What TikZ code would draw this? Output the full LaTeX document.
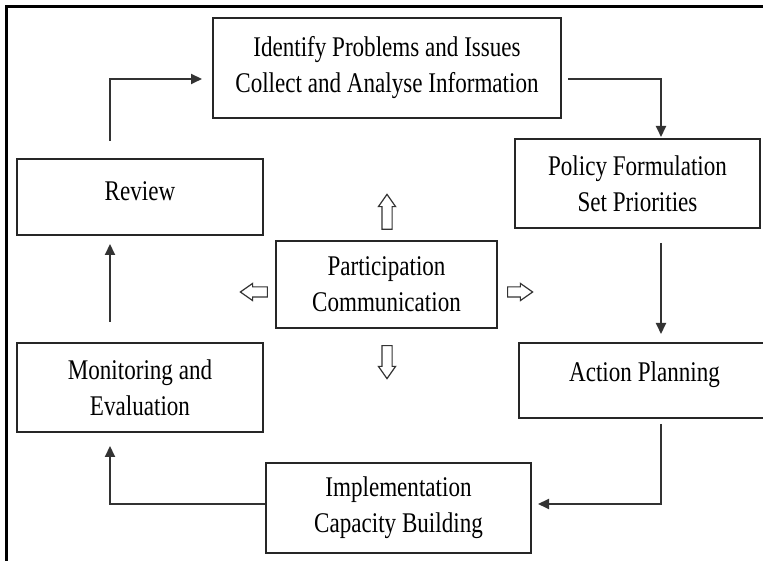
\documentclass[tikz,border=0pt]{standalone}
\usepackage{fontspec}
\newfontfamily\boxfont[FakeStretch=0.81]{Liberation Serif}
\usetikzlibrary{arrows.meta,shapes.arrows}
\begin{document}
\begin{tikzpicture}[x=1pt,y=1pt,
  box/.style={draw=black!85, line width=2pt, fill=white, font=\boxfont\fontsize{28.5}{36}\selectfont, align=center, inner sep=0pt, text=black},
  conn/.style={draw=black!80, line width=2pt, -{Triangle[length=11pt,width=10pt]}},
  hollow/.style={draw=black!80, line width=1.2pt, fill=white, single arrow, single arrow head extend=3.5pt, single arrow tip angle=70, inner sep=4.5pt}]
\useasboundingbox (0,0) rectangle (763,561);
\clip (0,0) rectangle (763,561);
\draw[line width=3pt] (6,0) -- (6,554.5) -- (770,554.5);

\node[box, minimum width=348pt, minimum height=100pt] (ident) at (387,493) {Identify Problems and Issues\\Collect and Analyse Information};
\node[box, minimum width=245pt, minimum height=89pt] (policy) at (637.5,377.5) {Policy Formulation\\Set Priorities};
\node[box, minimum width=246pt, minimum height=76pt, text depth=12pt] (review) at (140,364) {Review};
\node[box, minimum width=221pt, minimum height=87pt] (part) at (386.5,276.5) {Participation\\Communication};
\node[box, minimum width=251pt, minimum height=75pt, text depth=17.6pt] (action) at (644.5,180.5) {Action Planning};
\node[box, minimum width=246pt, minimum height=89pt] (monitor) at (140,173.5) {Monitoring and\\Evaluation};
\node[box, minimum width=265pt, minimum height=90pt] (impl) at (398.5,53) {Implementation\\Capacity Building};

\node[hollow, minimum height=35pt, rotate=90] (pu) at (387,345.5) {};
\node[hollow, minimum height=33pt, rotate=-90] (pd) at (387,202.5) {};
\node[hollow, minimum height=27pt, rotate=180] (pl) at (257.5,269) {};
\node[hollow, minimum height=25pt] (pr) at (516.5,269) {};

\draw[conn, shorten <=17pt, shorten >=10pt] ([xshift=-30pt]review.north) |- ([yshift=-11pt]ident.west);
\draw[conn, shorten <=6pt, shorten >=1pt] ([yshift=-11pt]ident.east) -| ([xshift=23.5pt]policy.north);
\draw[conn, shorten <=14pt, shorten >=8pt] ([xshift=23.5pt]policy.south) -- ([xshift=16.5pt]action.north);
\draw[conn, shorten <=5pt, shorten >=6pt] ([xshift=16.5pt]action.south) |- ([yshift=4pt]impl.east);
\draw[conn, shorten >=13pt] ([yshift=4pt]impl.west) -| ([xshift=-30pt]monitor.south);
\draw[conn, shorten <=20pt, shorten >=8pt] ([xshift=-30pt]monitor.north) -- ([xshift=-30pt]review.south);
\end{tikzpicture}
\end{document}
